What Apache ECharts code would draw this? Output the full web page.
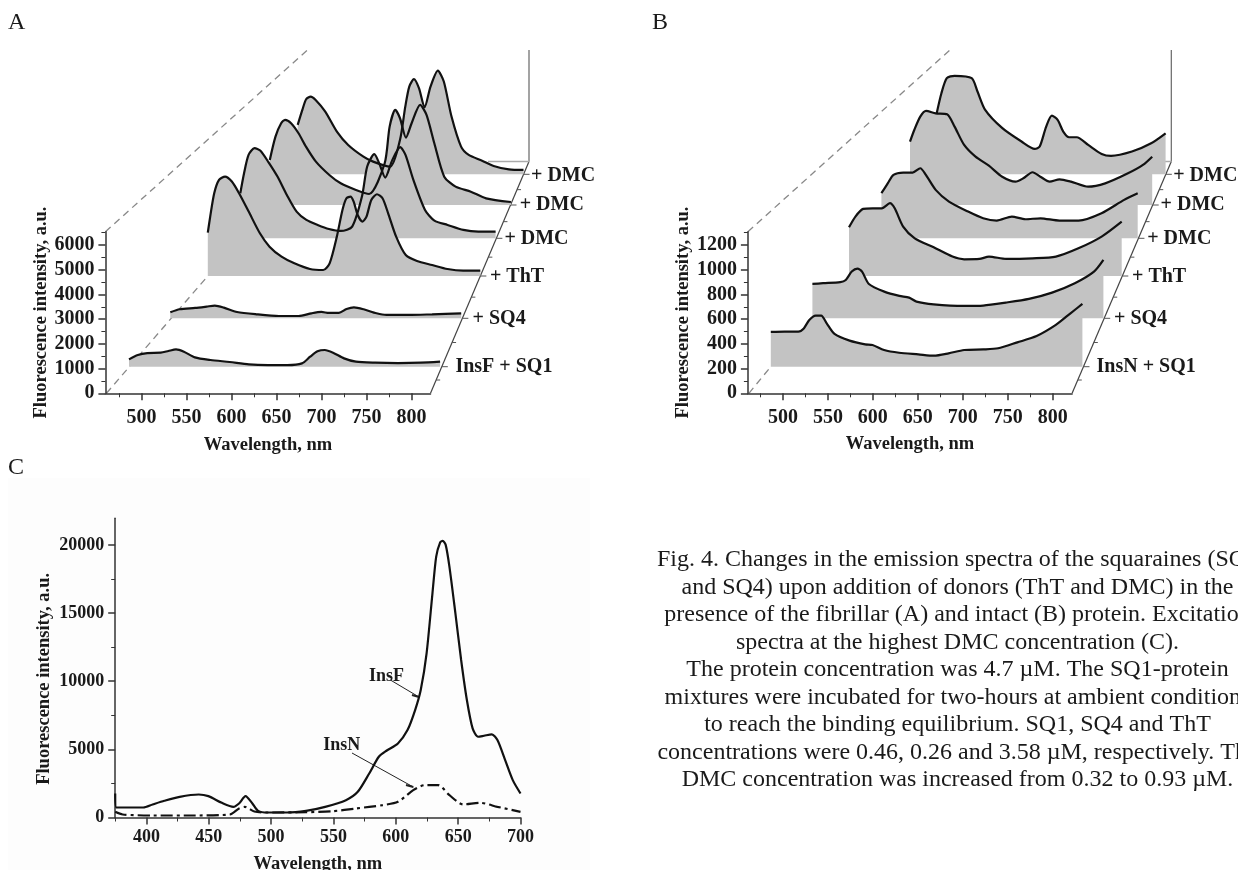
<!DOCTYPE html>
<html>
<head>
<meta charset="utf-8">
<script src="https://cdn.jsdelivr.net/npm/echarts@6/dist/echarts.min.js"></script>
<style>
  html, body { margin: 0; padding: 0; background: #fff; overflow: hidden; }
  #chart { width: 1238px; height: 870px; }
</style>
</head>
<body>
<div id="chart"></div>
<script>
// panel A, InsF, front to back. each point is [wavelength, intensity]
const a1 = [[480,297],[489.6,472],[500,553],[514.7,567],[523,634],[531.4,702],[540,607],[552,378],[569,270],[590,189],[611,94],[632,67],[653,67],[669,135],[678,405],[686,621],[694,675],[703,567],[715,337],[728,202],[749,162],[774,148],[799,162],[820,202]];
const a2 = [[480,243],[491,365],[509,418],[522.5,472],[532,513],[542.6,432],[558,256],[580.6,162],[607,94],[630,94],[645,202],[656.6,256],[665.5,216],[677,216],[686,378],[694.6,445],[706,365],[721,202],[732.6,135],[759,135],[786,162],[820,202]];
const a3 = [[480,1755],[483,2403],[488,3348],[494,3888],[501.5,4023],[510,3820],[519,3348],[531,2605],[545,1728],[557,1188],[572,783],[588,513],[607.5,283],[624,243],[632,513],[641,1593],[648,2673],[653,3145],[658,3213],[662,3010],[667,2470],[673,2200],[678,2403],[684,3078],[691,3307],[698,3145],[705,2538],[715,1593],[727,850],[741,607],[760,445],[779,283],[798.5,216],[820,216]];
const a4 = [[480,1823],[485,2633],[491,3375],[499,3645],[506.5,3550],[517,3105],[529.5,2498],[542,1755],[555,1080],[568,743],[583,540],[598,378],[614,297],[629,473],[642,1688],[649,2903],[658.5,3402],[665,3038],[673,2457],[682.5,3173],[693,3686],[700,3375],[710.5,2363],[726,1148],[738.5,716],[756,540],[777,338],[797,270],[820,270]];
const a5 = [[480,1823],[488,2768],[496,3307],[501.6,3442],[510,3307],[520.5,2902],[531,2362],[545,1755],[564,1215],[580,877],[601.5,607],[620,445],[642,1687],[649,3172],[657,3847],[663.6,3510],[672,2727],[680,3307],[692,4050],[701,3645],[712,2497],[726,1147],[742,742],[763.5,540],[785,270],[820,121]];
const a6 = [[480,1998],[487,2605],[492.7,3037],[499.6,3145],[507,3010],[521.5,2538],[539,1728],[556,1188],[579,715],[593.5,513],[619,310],[634,1390],[642,2740],[648,3550],[655,3847],[662.6,3483],[671,2713],[680,3550],[691,4198],[700,3753],[711.6,2335],[726,1120],[737.5,783],[757.6,553],[775,337],[798,202],[820,175]];

// panel B, InsN
const b1 = [[480,281],[495,284],[510,284],[516,310],[522,378],[529,413],[535,413],[541,351],[549.5,265],[566,211],[583,181],[591,176],[603.6,135],[620,113],[641,100],[658,89],[674,108],[691,135],[712,140],[728,149],[749,197],[770,248],[791,338],[807,432],[820,508]];
const b2 = [[480,278],[492.5,284],[512.5,292],[519,310],[526,378],[532.6,402],[538,378],[546,278],[564,216],[581.6,181],[593,167],[601.6,135],[621.7,113],[657,100],[679.6,103],[706,127],[733,157],[760,208],[786.6,284],[809,378],[820,473]];
const b3 = [[480,394],[488,481],[497.6,543],[509.5,548],[521,548],[531,589],[537,548],[547.5,400],[562,305],[585.6,232],[609,157],[623.6,135],[642.6,138],[654.5,157],[676,138],[709,143],[738,157],[766,224],[795,319],[820,440]];
const b4 = [[480,365],[488.6,446],[496,513],[509,532],[521.5,532],[531.6,567],[539,513],[552,392],[569.6,297],[595,216],[615,162],[633,143],[653,176],[671,154],[691,162],[716,143],[741.6,143],[772,203],[802,311],[820,365]];
const b5 = [[480,513],[486,607],[494.4,715],[502.5,761],[516,742],[532,734],[542.6,634],[556,486],[572,391],[590.7,318],[609.5,229],[628,189],[639,216],[652,265],[663,229],[676,189],[690,208],[706,189],[730,148],[754,175],[786,256],[807,324],[820,391]];
const b6 = [[480,494],[487,656],[495,778],[506.6,797],[532,778],[540.6,670],[552,521],[577.5,373],[606,265],[625.6,205],[633,224],[642.6,386],[651,475],[659.6,440],[668,346],[676.6,300],[688,300],[705,238],[725,165],[739,149],[770,184],[798.5,251],[820,332]];

// panel C, excitation spectra
const insF = [[375,1763],[376,734],[387,734],[397.5,734],[405,955],[414.4,1224],[426.7,1518],[442,1689],[449.7,1567],[460.5,1077],[469.7,783],[474.3,1028],[479.5,1567],[485,1028],[489.7,490],[497,367],[512.7,367],[528,490],[543.4,783],[560,1273],[569.5,1885],[578.7,3231],[586.4,4455],[592.5,4896],[601.7,5435],[609.4,6414],[615.5,7883],[620,9351],[624.7,12044],[629.4,16450],[632.4,19143],[635.5,20171],[637.6,20294],[640,20000],[643,18410],[647.8,14982],[652.4,11555],[657,8617],[661.6,6536],[666,5924],[670.8,5998],[677,6096],[681.5,5679],[687.7,4211],[693.8,2742],[700,1763]];
const insN = [[375,416],[381,220],[405.7,147],[436.5,147],[467,220],[474.3,661],[479,783],[486.6,441],[497,367],[528,392],[549.5,465],[568,661],[589.4,906],[601.7,1150],[614,2007],[623,2375],[634,2375],[643,1640],[654,955],[667.7,1077],[681.5,783],[700,416]];

const tracesA = [a6, a5, a4, a3, a2, a1];
const tracesB = [b6, b5, b4, b3, b2, b1];
const labelsA = ['InsF + SQ1', '+ SQ4', '+ ThT', '+ DMC', '+ DMC', '+ DMC'];
const labelsB = ['InsN + SQ1', '+ SQ4', '+ ThT', '+ DMC', '+ DMC', '+ DMC'];

const yTicksA = [0, 1000, 2000, 3000, 4000, 5000, 6000];
const yMinorA = [500, 1500, 2500, 3500, 4500, 5500, 6500];
const yTicksB = [0, 200, 400, 600, 800, 1000, 1200];
const yMinorB = [100, 300, 500, 700, 900, 1100, 1300];
const xTicksAB = [500, 550, 600, 650, 700, 750, 800];
const xMinorAB = [475, 525, 575, 625, 675, 725, 775];
const yTicksC = [0, 5000, 10000, 15000, 20000];
const yMinorC = [2500, 7500, 12500, 17500];
const xTicksC = [400, 450, 500, 550, 600, 650, 700];
const xMinorC = [375, 425, 475, 525, 575, 625, 675];

const caption = [
  'Fig. 4. Changes in the emission spectra of the squaraines (SQ1',
  'and SQ4) upon addition of donors (ThT and DMC) in the',
  'presence of the fibrillar (A) and intact (B) protein. Excitation',
  'spectra at the highest DMC concentration (C).',
  'The protein concentration was 4.7 µM. The SQ1-protein',
  'mixtures were incubated for two-hours at ambient conditions',
  'to reach the binding equilibrium. SQ1, SQ4 and ThT',
  'concentrations were 0.46, 0.26 and 3.58 µM, respectively. The',
  'DMC concentration was increased from 0.32 to 0.93 µM.'
];
const captionY = [560, 587.5, 615, 642.5, 670, 697.5, 725, 752.5, 780];

const SERIF = '"Liberation Serif", serif';
const GREY = '#c3c3c3';
const INK = '#1a1a1a';

let grids = [], xAxes = [], yAxes = [], series = [], graphic = [];

function line(x1, y1, x2, y2, color, dash, width) {
  graphic.push({
    type: 'line', silent: true,
    shape: { x1: x1, y1: y1, x2: x2, y2: y2 },
    style: { stroke: color, lineWidth: width || 1, lineDash: dash || null }
  });
}

function text(x, y, str, font, align) {
  graphic.push({
    type: 'text', silent: true, x: x, y: y,
    style: {
      text: str, fill: INK, font: font || 'bold 20px ' + SERIF,
      textAlign: align || 'left', textVerticalAlign: 'middle'
    }
  });
}

// the visible axes of one panel, with a tick-only twin for the minor ticks
function addAxes(box, xr, yr, xt, xm, yt, ym, o) {
  let i = grids.length;
  let plain = function (v) { return String(v); };
  let axisColor = { color: '#333', width: 1.5 };
  grids.push({ left: box.left, top: box.top, width: box.right - box.left, height: box.bottom - box.top, outerBoundsMode: 'none' });
  xAxes.push({
    type: 'value', gridIndex: i, position: 'bottom', min: xr[0], max: xr[1], splitLine: { show: false },
    name: 'Wavelength, nm', nameLocation: 'middle', nameGap: o.gapX,
    nameTextStyle: { fontFamily: SERIF, fontWeight: 'bold', fontSize: 18.5, color: INK },
    axisLine: { show: true, onZero: false, lineStyle: axisColor },
    axisTick: { show: true, length: 7, customValues: xt, lineStyle: axisColor },
    axisLabel: { customValues: xt, formatter: plain, fontFamily: SERIF, fontWeight: 'bold', fontSize: o.font, color: INK, margin: o.marginX }
  });
  yAxes.push({
    type: 'value', gridIndex: i, position: 'left', min: yr[0], max: yr[1], splitLine: { show: false },
    name: 'Fluorescence intensity, a.u.', nameLocation: 'middle', nameGap: o.gapY,
    nameTextStyle: { fontFamily: SERIF, fontWeight: 'bold', fontSize: 18.5, color: INK, padding: o.namePad || 0 },
    axisLine: { show: true, onZero: false, lineStyle: axisColor },
    axisTick: { show: true, length: 7, customValues: yt, lineStyle: axisColor },
    axisLabel: { customValues: yt, formatter: plain, fontFamily: SERIF, fontWeight: 'bold', fontSize: o.font, color: INK, margin: 11 }
  });
  xAxes.push({
    type: 'value', gridIndex: i, position: 'bottom', min: xr[0], max: xr[1], splitLine: { show: false },
    axisLine: { show: false }, axisLabel: { show: false },
    axisTick: { show: true, length: 4, customValues: xm, lineStyle: { color: '#333' } }
  });
  yAxes.push({
    type: 'value', gridIndex: i, position: 'left', min: yr[0], max: yr[1], splitLine: { show: false },
    axisLine: { show: false }, axisLabel: { show: false },
    axisTick: { show: true, length: 4, customValues: ym, lineStyle: { color: '#333' } }
  });
  return { x: xAxes.length - 2, y: yAxes.length - 2 };
}

// every trace sits in a grid of its own, shifted back and narrowed for the depth
function addTrace(data, left, right, base, yMax) {
  let i = grids.length;
  let h = 148.3;
  grids.push({ left: left, top: base - h, width: right - left, height: h, outerBoundsMode: 'none' });
  xAxes.push({ type: 'value', gridIndex: i, min: 480, max: 820, show: false });
  yAxes.push({ type: 'value', gridIndex: i, min: 0, max: yMax, show: false });
  series.push({
    type: 'line', xAxisIndex: xAxes.length - 1, yAxisIndex: yAxes.length - 1,
    data: data, showSymbol: false, smooth: 0.25, clip: false,
    lineStyle: { color: '#111', width: 2.2 },
    areaStyle: { color: GREY, opacity: 1, origin: 'start' }
  });
}

function addFrame(box, backX, stripFrom, bases, labels, labelX, labelY) {
  let dashColor = '#888';
  let backY = 161.5;
  let slant = function (y) { return box.right + (box.bottom - y) * (backX - box.right) / (box.bottom - backY); };
  line(box.left, box.top, box.left + 202, 50, dashColor, [7, 5], 1.3);
  line(box.left + 1, box.bottom, stripFrom.x, stripFrom.y, dashColor, [7, 5], 1.3);
  line(box.right, box.bottom, backX, backY, '#444', null, 1.2);
  line(backX, backY, backX, 50, '#666', null, 1.2);
  line(backX - 41, backY, backX, backY, '#aaa', null, 1.5);
  for (let i = 0; i < bases.length; i++) {
    let sx = slant(bases[i]);
    line(sx, bases[i], sx + 6, bases[i], '#555', null, 1);
    text(labelX[i], labelY[i], labels[i]);
    let prev = i === 0 ? box.bottom : bases[i - 1];
    let mid = (prev + bases[i]) / 2;
    line(slant(mid), mid, slant(mid) + 4, mid, '#555', null, 1);
  }
}

const basesFront = [366.7, 318.3, 276, 238.3, 205, 174.3];
const basesBack = [174.3, 205, 238.3, 276, 318.3, 366.7];
const labelRows = [366.7, 319, 277, 239, 205, 175.7];

// faint scan background behind panel C
graphic.push({
  type: 'rect', silent: true,
  shape: { x: 8, y: 478, width: 582, height: 392 },
  style: { fill: '#fdfdfd' }
});

// panel A
const boxA = { left: 105.4, right: 430.5, top: 231.7, bottom: 393.3 };
addFrame(boxA, 529, { x: 207.8, y: 276 }, basesFront, labelsA, [455.4, 472.6, 489.9, 504.4, 519.7, 531], labelRows);
addAxes(boxA, [459.8, 821], [0, 6536], xTicksAB, xMinorAB, yTicksA, yMinorA, { font: 20, gapX: 42, gapY: 51, marginX: 15 });
const leftsA = [297.7, 269.8, 240.3, 207.8, 170.3, 129];
const rightsA = [523.5, 510.9, 495.6, 480.3, 461.2, 440.1];
tracesA.forEach(function (t, i) { addTrace(t, leftsA[i], rightsA[i], basesBack[i], 6000); });

// panel B
const boxB = { left: 747.9, right: 1072.1, top: 231.7, bottom: 393.3 };
addFrame(boxB, 1171.3, { x: 770.8, y: 366.7 }, basesFront, labelsB, [1096.5, 1114, 1132, 1147.2, 1160.6, 1173.2], labelRows);
addAxes(boxB, [461, 821.6], [0, 1308], xTicksAB, xMinorAB, yTicksB, yMinorB, { font: 20, gapX: 41, gapY: 52, marginX: 15 });
const leftsB = [936.7, 910, 881.4, 849, 812.4, 770.8];
const rightsB = [1165.6, 1152.2, 1137.7, 1121.7, 1103.4, 1082.4];
tracesB.forEach(function (t, i) { addTrace(t, leftsB[i], rightsB[i], basesBack[i], 1200); });

// panel C
const boxC = { left: 115.2, right: 520.5, top: 518.3, bottom: 817.5 };
const axC = addAxes(boxC, [375, 700], [0, 21950], xTicksC, xMinorC, yTicksC, yMinorC, { font: 18, gapX: 37, gapY: 61, marginX: 11, namePad: [0, 22, 0, 0] });
series.push({
  type: 'line', xAxisIndex: axC.x, yAxisIndex: axC.y, data: insN, showSymbol: false, smooth: 0.25,
  lineStyle: { color: '#111', width: 2.2, type: [12, 4, 3, 4] }
});
series.push({
  type: 'line', xAxisIndex: axC.x, yAxisIndex: axC.y, data: insF, showSymbol: false, smooth: 0.25,
  lineStyle: { color: '#111', width: 2.2 }
});
text(386.5, 676, 'InsF', 'bold 18px ' + SERIF, 'center');
text(341.7, 745, 'InsN', 'bold 18px ' + SERIF, 'center');
line(390.4, 680, 419, 697, '#222', null, 1);
line(419, 697, 412, 695, '#222', null, 2);
line(352, 753, 413.3, 787, '#222', null, 1);
line(413.3, 787, 406, 785, '#222', null, 2);

// panel letters and the caption
text(8, 22.5, 'A', '24px ' + SERIF);
text(652, 22.5, 'B', '24px ' + SERIF);
text(8, 467.5, 'C', '24px ' + SERIF);
caption.forEach(function (s, i) {
  text(957.5, captionY[i], s, '24px ' + SERIF, 'center');
});

let chart = echarts.init(document.getElementById('chart'));
chart.setOption({
  animation: false,
  backgroundColor: '#fff',
  grid: grids,
  xAxis: xAxes,
  yAxis: yAxes,
  series: series,
  graphic: { elements: graphic }
});
</script>
</body>
</html>
